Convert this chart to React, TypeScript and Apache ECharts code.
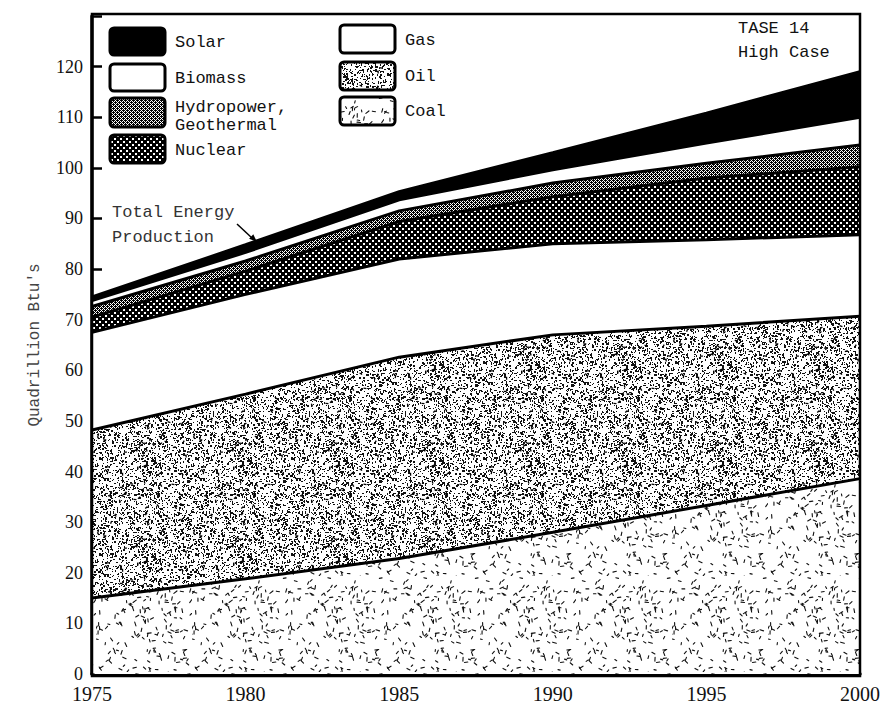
import React, { useEffect, useRef } from "react";
import * as echarts from "echarts";

const years = ["1975", "1980", "1985", "1990", "1995", "2000"];
const coal = [15, 18.8, 22.8, 28, 33.3, 38.6];
const oil = [33.2, 36.5, 39.8, 39, 35.4, 32.1];
const gas = [19.3, 19.7, 19.4, 18, 17.1, 16.1];
const nuclear = [3.0, 4.6, 7.4, 9.3, 12.2, 13.4];
const hydro = [2.1, 2.0, 2.1, 2.7, 2.9, 4.3];
const biomass = [1.2, 1.7, 2.2, 2.6, 4.0, 5.5];
const solar = [0.7, 1.5, 1.6, 3.4, 5.9, 9.0];

const yMax = 130;
const yStep = 10;

function lcg(seed: number) {
  let s = seed >>> 0;
  return () => {
    s = (Math.imul(s, 1664525) + 1013904223) >>> 0;
    return s / 4294967296;
  };
}

function makeCanvas(w: number, h: number, draw: (ctx: CanvasRenderingContext2D) => void) {
  const c = document.createElement("canvas");
  c.width = w;
  c.height = h;
  const ctx = c.getContext("2d")!;
  draw(ctx);
  return c;
}

function pattern(c: HTMLCanvasElement) {
  return { image: c, repeat: "repeat", imageWidth: c.width, imageHeight: c.height } as any;
}

function makePatterns() {
  const coalC = makeCanvas(96, 96, (ctx) => {
    ctx.fillStyle = "#fff";
    ctx.fillRect(0, 0, 96, 96);
    const r = lcg(21);
    ctx.strokeStyle = "#111";
    ctx.lineWidth = 1.1;
    ctx.lineCap = "round";
    for (let i = 0; i < 170; i++) {
      const x = r() * 96, y = r() * 96;
      const a = r() * Math.PI;
      const l = 2 + r() * 2;
      ctx.beginPath();
      ctx.moveTo(x, y);
      ctx.lineTo(x + Math.cos(a) * l, y + Math.sin(a) * l);
      ctx.stroke();
    }
  });
  const oilC = makeCanvas(96, 96, (ctx) => {
    ctx.fillStyle = "#fff";
    ctx.fillRect(0, 0, 96, 96);
    const r = lcg(13);
    ctx.fillStyle = "#111";
    for (let i = 0; i < 1600; i++) {
      const x = Math.floor(r() * 96), y = Math.floor(r() * 96);
      const w = r() < 0.3 ? 2 : 1;
      const h = r() < 0.35 ? 2 : 1;
      ctx.fillRect(x, y, w, h);
    }
    ctx.strokeStyle = "#000";
    ctx.lineWidth = 1.3;
    for (let i = 0; i < 70; i++) {
      const x = r() * 96, y = r() * 96;
      const a = r() * Math.PI;
      ctx.beginPath();
      ctx.moveTo(x, y);
      ctx.lineTo(x + Math.cos(a) * 3, y + Math.sin(a) * 3);
      ctx.stroke();
    }
  });
  const nucC = makeCanvas(6, 6, (ctx) => {
    ctx.fillStyle = "#000";
    ctx.fillRect(0, 0, 6, 6);
    ctx.fillStyle = "#fff";
    ctx.fillRect(0, 0, 2, 2);
    ctx.fillRect(3, 3, 2, 2);
  });
  const hydC = makeCanvas(4, 4, (ctx) => {
    ctx.fillStyle = "#fff";
    ctx.fillRect(0, 0, 4, 4);
    ctx.fillStyle = "#000";
    ctx.fillRect(0, 0, 1, 1);
    ctx.fillRect(2, 0, 1, 1);
    ctx.fillRect(1, 1, 1, 1);
    ctx.fillRect(3, 1, 1, 1);
    ctx.fillRect(0, 2, 1, 1);
    ctx.fillRect(2, 2, 1, 1);
    ctx.fillRect(1, 3, 1, 1);
    ctx.fillRect(3, 3, 1, 1);
    ctx.fillRect(1, 0, 1, 1);
    ctx.fillRect(3, 2, 1, 1);
  });
  return { coal: pattern(coalC), oil: pattern(oilC), nuclear: pattern(nucC), hydro: pattern(hydC) };
}

export default function App() {
  const ref = useRef<HTMLDivElement>(null);
  useEffect(() => {
    if (!ref.current) return;
    const chart = echarts.init(ref.current, undefined, { renderer: "svg" });
    const p = makePatterns();

    const layers = [
      { name: "Coal", data: coal, fill: p.coal },
      { name: "Oil", data: oil, fill: p.oil },
      { name: "Gas", data: gas, fill: "#fff" },
      { name: "Nuclear", data: nuclear, fill: p.nuclear },
      { name: "Hydropower, Geothermal", data: hydro, fill: p.hydro },
      { name: "Biomass", data: biomass, fill: "#fff" },
      { name: "Solar", data: solar, fill: "#000" },
    ];

    const series = layers.map((l, i) => ({
      name: l.name,
      type: "line",
      stack: "total",
      data: l.data,
      symbol: "none",
      showSymbol: false,
      z: 20 - i,
      lineStyle: { color: "#000", width: 3 },
      areaStyle: { color: l.fill, opacity: 1 },
    }));

    const mono = '"Liberation Mono", "DejaVu Sans Mono", monospace';
    const serif = '"Liberation Serif", "DejaVu Serif", serif';

    const legendBoxes = [
      { x: 110, y: 28, h: 27, fill: "#000", label: "Solar", ly: 42 },
      { x: 110, y: 64, h: 27, fill: "#fff", label: "Biomass", ly: 78 },
      { x: 110, y: 98, h: 29, fill: p.hydro, label: "Hydropower,\nGeothermal", ly: 116 },
      { x: 110, y: 135, h: 28, fill: p.nuclear, label: "Nuclear", ly: 150 },
      { x: 340, y: 25, h: 28, fill: "#fff", label: "Gas", ly: 40 },
      { x: 340, y: 62, h: 28, fill: p.oil, label: "Oil", ly: 76 },
      { x: 340, y: 97, h: 28, fill: p.coal, label: "Coal", ly: 111 },
    ];

    const graphics: any[] = [];
    legendBoxes.forEach((b) => {
      graphics.push({
        type: "rect",
        z: 100,
        shape: { x: b.x, y: b.y, width: 55, height: b.h, r: 4 },
        style: { fill: b.fill, stroke: "#000", lineWidth: 3 },
      });
      graphics.push({
        type: "text",
        z: 100,
        x: b.x + 65,
        y: b.ly,
        style: {
          text: b.label,
          font: `17px ${mono}`,
          fill: "#111",
          lineHeight: 18,
          textVerticalAlign: "middle",
          verticalAlign: "middle",
        },
      });
    });

    graphics.push(
      {
        type: "text",
        z: 100,
        x: 738,
        y: 28,
        style: { text: "TASE 14", font: `17px ${mono}`, fill: "#111", textVerticalAlign: "middle", verticalAlign: "middle" },
      },
      {
        type: "text",
        z: 100,
        x: 738,
        y: 52,
        style: { text: "High Case", font: `17px ${mono}`, fill: "#111", textVerticalAlign: "middle", verticalAlign: "middle" },
      },
      {
        type: "text",
        z: 100,
        x: 112,
        y: 212,
        style: { text: "Total Energy", font: `17px ${mono}`, fill: "#333", textVerticalAlign: "middle", verticalAlign: "middle" },
      },
      {
        type: "text",
        z: 100,
        x: 112,
        y: 237,
        style: { text: "Production", font: `17px ${mono}`, fill: "#333", textVerticalAlign: "middle", verticalAlign: "middle" },
      },
      {
        type: "line",
        z: 100,
        shape: { x1: 237, y1: 224, x2: 252, y2: 238 },
        style: { stroke: "#000", lineWidth: 1.5 },
      },
      {
        type: "polygon",
        z: 100,
        shape: { points: [[257, 242], [249.1, 238.7], [253.3, 234.3]] },
        style: { fill: "#000" },
      },
      {
        type: "text",
        z: 100,
        x: 35,
        y: 345,
        rotation: Math.PI / 2,
        style: {
          text: "Quadrillion Btu's",
          font: `16px ${mono}`,
          fill: "#444",
          textAlign: "center",
          textVerticalAlign: "middle",
          verticalAlign: "middle",
        },
      },
      {
        type: "rect",
        z: 100,
        shape: { x: 92, y: 14, width: 768, height: 662 },
        style: { fill: "none", stroke: "#000", lineWidth: 2.5 },
      }
    );

    chart.setOption({
      animation: false,
      backgroundColor: "#fff",
      grid: { left: 92, right: 26, top: 16, bottom: 28, containLabel: false },
      xAxis: {
        type: "category",
        data: years,
        boundaryGap: false,
        axisLine: { lineStyle: { color: "#000", width: 3.5 } },
        axisTick: { inside: true, length: 12, lineStyle: { color: "#000", width: 2 } },
        axisLabel: { color: "#111", fontFamily: serif, fontSize: 20, lineHeight: 20, margin: 10 },
        splitLine: { show: false },
      },
      yAxis: {
        type: "value",
        min: 0,
        max: yMax,
        interval: yStep,
        axisLine: { show: true, lineStyle: { color: "#000", width: 3.5 } },
        axisTick: { show: true, inside: true, length: 10, lineStyle: { color: "#000", width: 2.5 } },
        axisLabel: {
          color: "#111",
          fontFamily: serif,
          fontSize: 18,
          lineHeight: 14,
          margin: 9,
          formatter: (v: number) => (v > 120 ? "" : String(v)),
        },
        splitLine: { show: false },
      },
      series,
      graphic: graphics,
    });
    return () => chart.dispose();
  }, []);
  return <div ref={ref} style={{ position: "absolute", left: 0, top: 0, width: 886, height: 704 }} />;
}
